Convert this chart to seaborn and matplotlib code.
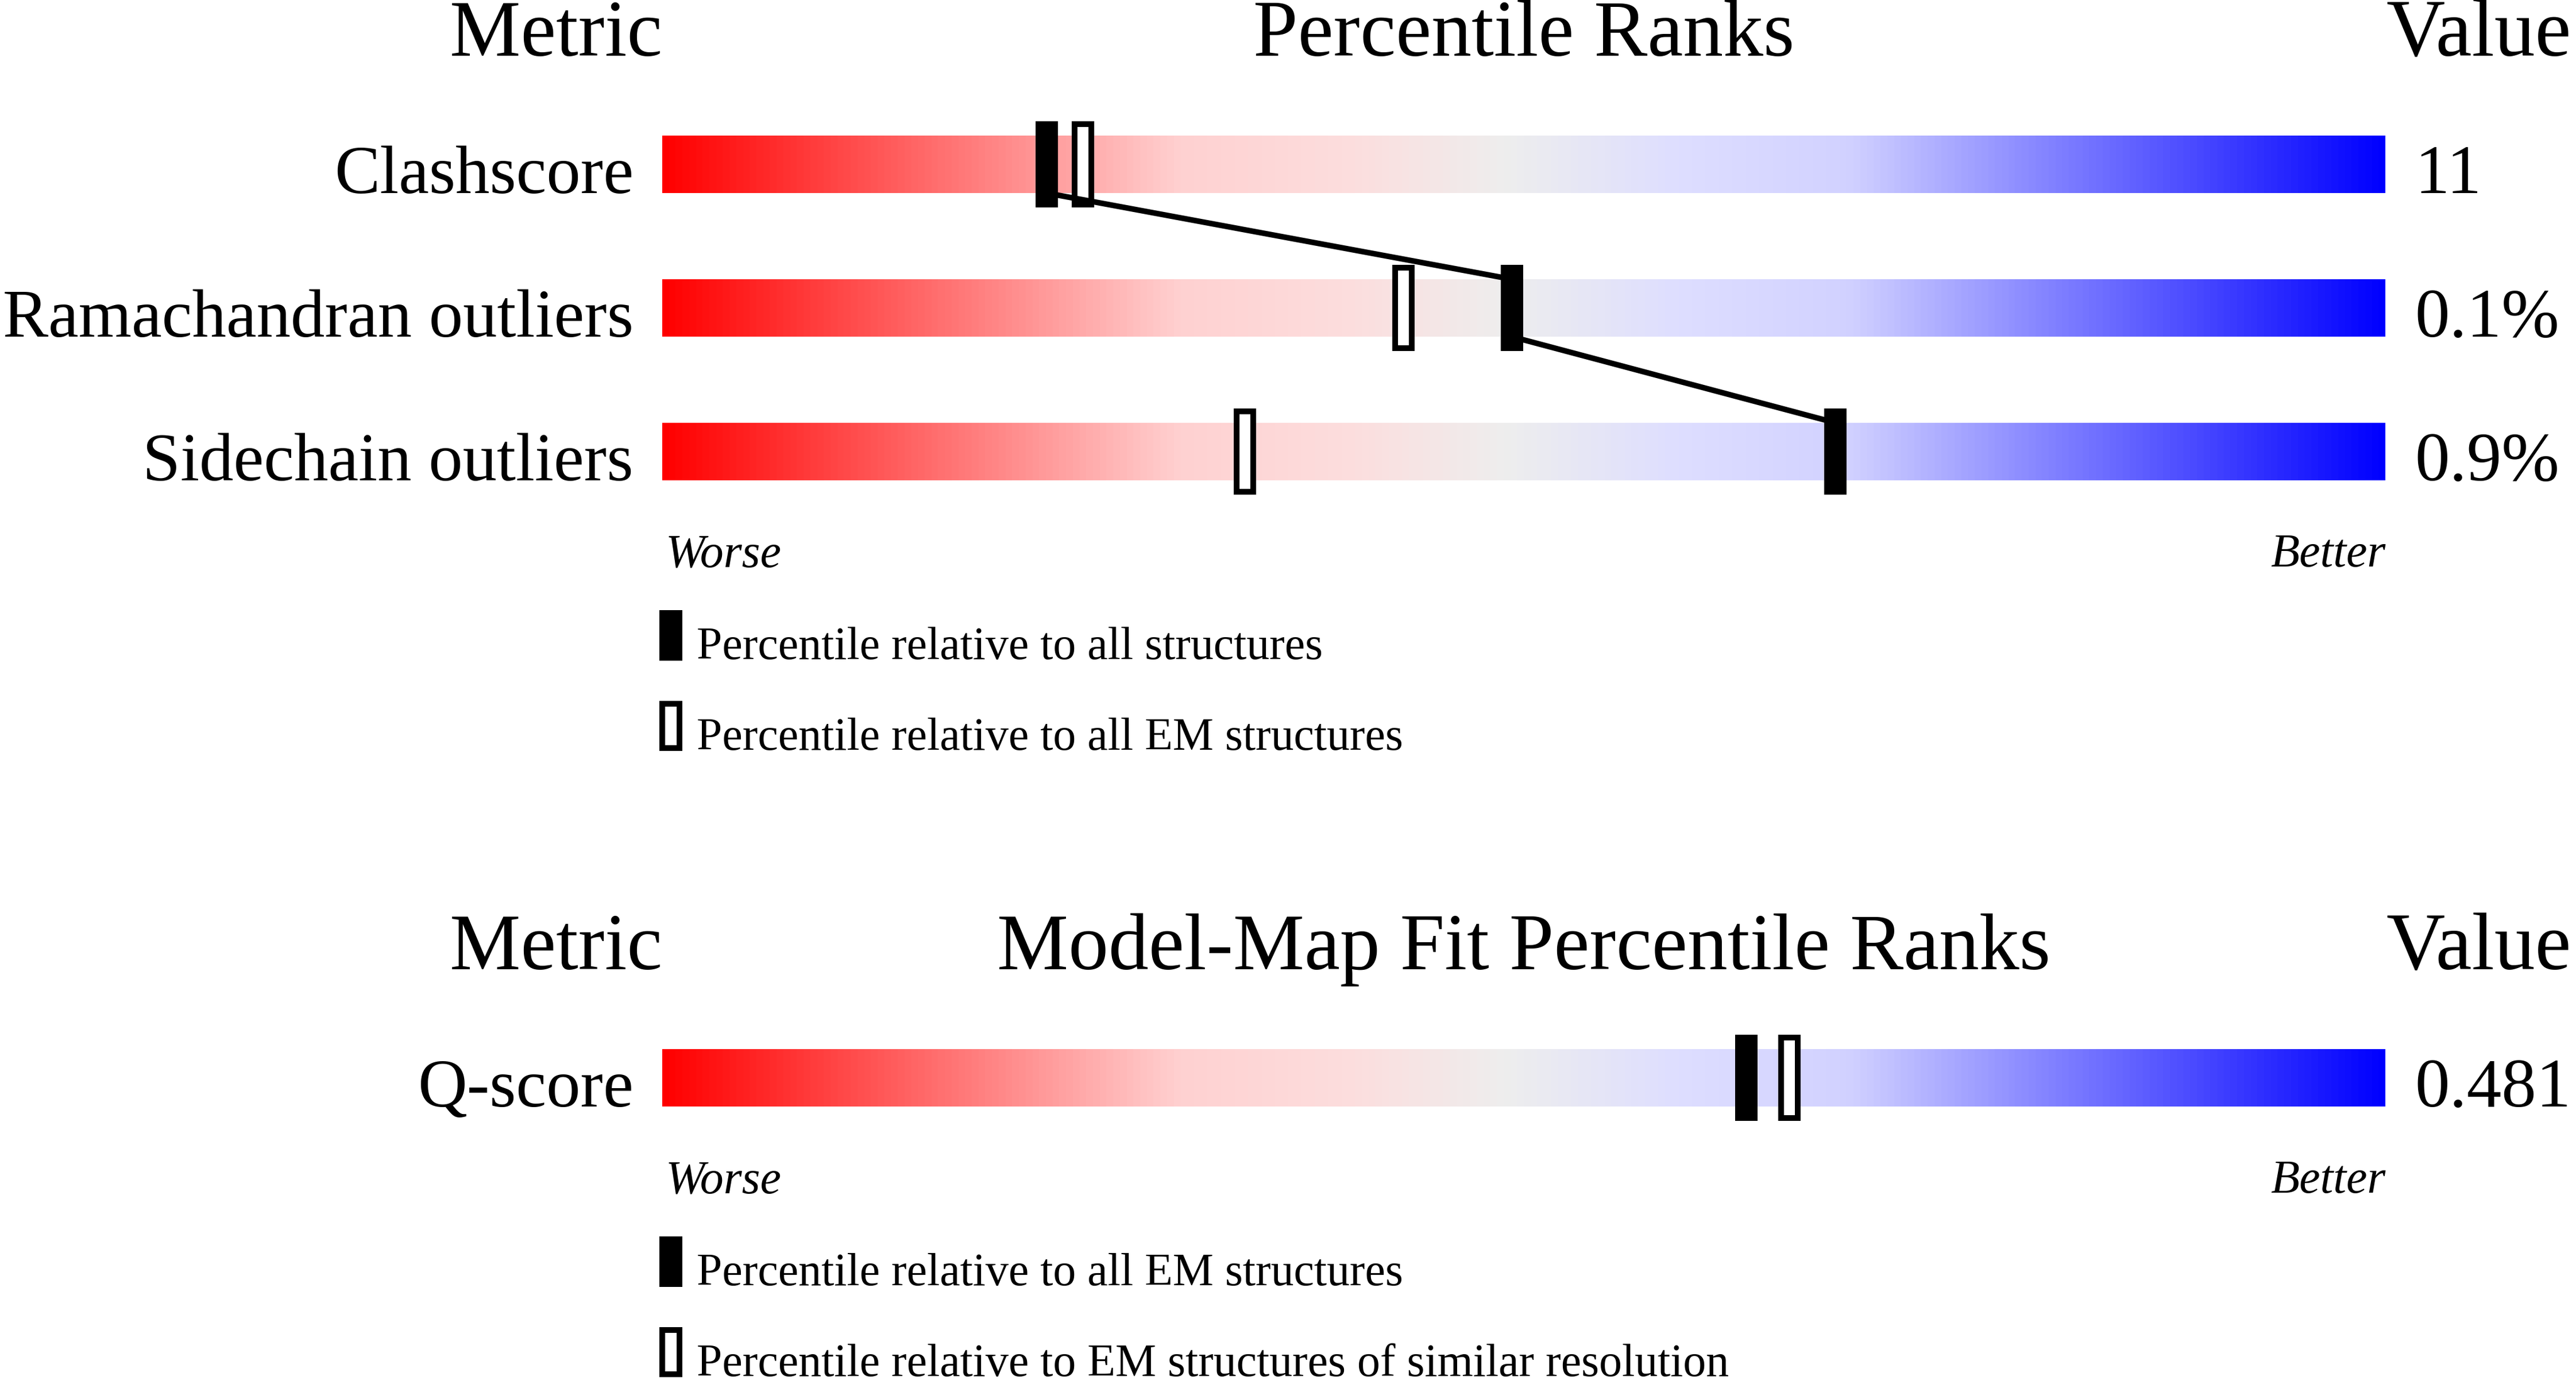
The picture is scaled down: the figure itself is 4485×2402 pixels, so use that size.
import matplotlib
matplotlib.use("Agg")
import matplotlib.pyplot as plt
import numpy as np
import seaborn as sns
from matplotlib.colors import LinearSegmentedColormap

# ---------------- data ----------------
geom_metrics = ["Clashscore", "Ramachandran outliers", "Sidechain outliers"]
geom_pct_all = [22.3, 49.3, 68.1]      # filled marker: all structures
geom_pct_em = [24.4, 43.0, 33.8]       # open marker: all EM structures
geom_values = ["11", "0.1%", "0.9%"]

fit_metrics = ["Q-score"]
fit_pct_all = [62.9]                   # filled marker: all EM structures
fit_pct_res = [65.4]                   # open marker: similar resolution
fit_values = ["0.481"]

geom_legend = ["Percentile relative to all structures",
               "Percentile relative to all EM structures"]
fit_legend = ["Percentile relative to all EM structures",
              "Percentile relative to EM structures of similar resolution"]

# ---------------- layout ----------------
W, H = 4485, 2402
BAR_LEFT, PX_PER_PCT, ROW_PX = 1153, 30.0, 250.0
BAR_H = 0.4          # gradient bar height (rows)
MARK_H = 0.6         # marker height (rows)

sns.set_theme(style="white")
plt.rcParams['font.family'] = ['Liberation Serif', 'DejaVu Serif']
plt.rcParams['text.color'] = 'black'

slider_cmap = LinearSegmentedColormap.from_list("slider", [
    (0.00, (1.0, 0.0, 0.0)),
    (0.30, (1.0, 0.82, 0.82)),
    (0.40, (0.99, 0.87, 0.87)),
    (0.49, (0.933, 0.933, 0.933)),
    (0.59, (0.87, 0.87, 1.0)),
    (0.69, (0.82, 0.82, 1.0)),
    (1.00, (0.0, 0.0, 1.0)),
])
gradient = np.linspace(0, 1, 512).reshape(1, -1)

fig = plt.figure(figsize=(W / 100, H / 100), dpi=100)


def panel_axes(top_px, bottom_px):
    ax = fig.add_axes([0, 1 - bottom_px / H, 1, (bottom_px - top_px) / H])
    ax.axis("off")
    return ax


def draw_panel(ax, title, metrics, pct_filled, pct_open, values, legend):
    rows = np.arange(len(metrics))
    ax.text(0, -0.756, "Metric", ha="right", va="baseline", fontsize=100)
    ax.text(50, -0.756, title, ha="center", va="baseline", fontsize=100.5)
    ax.text(100.05, -0.756, "Value", ha="left", va="baseline", fontsize=102)

    for r, name, val in zip(rows, metrics, values):
        ax.imshow(gradient, cmap=slider_cmap, aspect="auto",
                  extent=(0, 100, r + BAR_H / 2, r - BAR_H / 2), zorder=1)
        ax.text(-1.67, r + BAR_H / 2, name, ha="right", va="baseline", fontsize=85.5)
        ax.text(101.7, r + BAR_H / 2, val, ha="left", va="baseline", fontsize=87)

    # line joining the filled markers
    if len(rows) > 1:
        xs, ys = [], []
        for r, p in zip(rows, pct_filled):
            xs += [p, p]
            ys += [r - BAR_H / 2, r + BAR_H / 2]
        sns.lineplot(x=xs[1:-1], y=ys[1:-1], sort=False, estimator=None,
                     color="black", linewidth=7, ax=ax, zorder=3.5)

    # open markers
    ax.bar(pct_open, MARK_H - 10 / ROW_PX, width=29 / PX_PER_PCT,
           bottom=rows - (MARK_H - 10 / ROW_PX) / 2, facecolor="white",
           edgecolor="black", linewidth=7.2, zorder=3)
    # filled markers
    ax.bar(pct_filled, MARK_H, width=39 / PX_PER_PCT, bottom=rows - MARK_H / 2,
           color="black", linewidth=0, zorder=4)

    last = rows[-1]
    ax.text(0.2, last + 0.8, "Worse", ha="left", va="baseline",
            fontsize=59, style="italic")
    ax.text(100, last + 0.8, "Better", ha="right", va="baseline",
            fontsize=59, style="italic")

    # legend
    for i, (lab, filled) in enumerate(zip(legend, [True, False])):
        yc = last + 1.28 + i * 0.63
        if filled:
            ax.bar([0.5], [0.35], width=40 / PX_PER_PCT, bottom=yc - 0.175,
                   color="black", linewidth=0, clip_on=False)
        else:
            ax.bar([0.5], [0.35 - 10 / ROW_PX], width=30 / PX_PER_PCT,
                   bottom=yc - (0.35 - 10 / ROW_PX) / 2, facecolor="white",
                   edgecolor="black", linewidth=7.2, clip_on=False)
        ax.text(2.0, yc + 0.165, lab, ha="left", va="baseline", fontsize=57.5)


def set_limits(ax, top_px, bottom_px, row0_px):
    ax.set_xlim(-BAR_LEFT / PX_PER_PCT, (W - BAR_LEFT) / PX_PER_PCT)
    ax.set_ylim((bottom_px - row0_px) / ROW_PX, (top_px - row0_px) / ROW_PX)


ax1 = panel_axes(0, 1330)
draw_panel(ax1, "Percentile Ranks", geom_metrics, geom_pct_all, geom_pct_em,
           geom_values, geom_legend)
set_limits(ax1, 0, 1330, 286)

ax2 = panel_axes(1330, 2402)
draw_panel(ax2, "Model-Map Fit Percentile Ranks", fit_metrics, fit_pct_all,
           fit_pct_res, fit_values, fit_legend)
set_limits(ax2, 1330, 2402, 1876)

fig.savefig("out.png", dpi=100, facecolor="white")
